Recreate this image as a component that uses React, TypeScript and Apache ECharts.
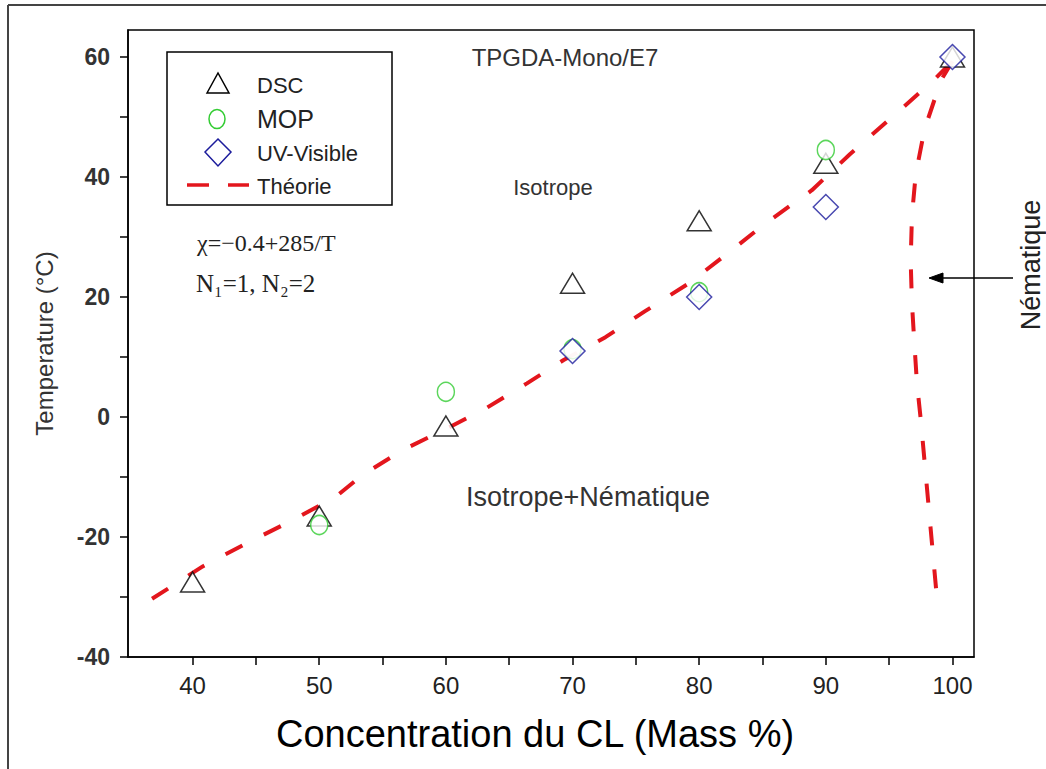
import React, { useEffect, useRef } from "react";
import * as echarts from "echarts";

// ---- Data ----
const xTickValues = [40, 45, 50, 55, 60, 65, 70, 75, 80, 85, 90, 95, 100];
const xLabelValues = [40, 50, 60, 70, 80, 90, 100];
const yTickValues = [-40, -30, -20, -10, 0, 10, 20, 30, 40, 50, 60];
const yLabelValues = [-40, -20, 0, 20, 40, 60];

const dscConc = [40, 50, 60, 70, 80, 90, 100];
const dscTemp = [-27.5, -16.5, -1.5, 22.3, 32.7, 42.3, 60];

const mopConc = [50, 60, 70, 80, 90];
const mopTemp = [-18, 4.2, 11.3, 20.8, 44.5];

const uvConc = [70, 80, 90, 100];
const uvTemp = [11, 20, 35, 60];

const theoryLiquidusX = [36.8, 40.8, 44.3, 47.8, 51.3, 53.4, 56.6, 60, 63.2, 66.4, 69.3, 72.6, 75.7, 79.2, 82.2, 85.2, 88.9, 91.9, 95.4, 98.6, 100];
const theoryLiquidusY = [-30.3, -24.9, -21, -17.3, -13.3, -9.7, -5.5, -2, 1.5, 5.6, 9.5, 13.3, 17.6, 22.3, 27.2, 32.2, 37.8, 43.8, 50.3, 56.3, 59.3];

const theoryNematicX = [100, 99.2, 98.6, 97.8, 97.1, 96.8, 96.7, 96.8, 97.0, 97.2, 97.5, 97.8, 98.1, 98.4, 98.7, 98.8];
const theoryNematicY = [59.3, 56.5, 53, 48, 40.5, 33.5, 26, 19, 12, 5.5, -0.5, -7.5, -14.5, -21.5, -28.5, -31];

const zip = (xs: number[], ys: number[]) => xs.map((x, i) => [x, ys[i]]);

const RED = "#e3161d";
const GREEN = "#33cc33";
const BLUE = "#1c1c9c";
const SANS = "'Liberation Sans', Arial, sans-serif";

export default function App() {
  const ref = useRef<HTMLDivElement>(null);
  useEffect(() => {
    document.body.style.margin = "0";
    const chart = echarts.init(ref.current!, null, { renderer: "svg" });
    const dashStyle = { type: [19, 24] as any, width: 4, color: RED, cap: "butt" as any };
    chart.setOption({
      animation: false,
      backgroundColor: "#fff",
      grid: {
        left: 128,
        top: 30,
        right: 72,
        bottom: 112,
        show: true,
        borderColor: "#000",
        borderWidth: 1.5,
        backgroundColor: "transparent",
        outerBoundsMode: "none",
      },
      xAxis: {
        type: "value",
        min: 34.9,
        max: 101.7,
        splitLine: { show: false },
        axisLine: { show: true, onZero: false, lineStyle: { color: "#000", width: 1.5 } },
        axisTick: { show: true, customValues: xTickValues, length: 8, lineStyle: { color: "#000", width: 1.5 } },
        axisLabel: {
          customValues: xLabelValues,
          margin: 16,
          fontSize: 24,
          color: "#222",
          fontFamily: "'Liberation Sans Narrow', 'Liberation Sans', Arial, sans-serif",
        },
        name: "Concentration du CL (Mass %)",
        nameLocation: "middle",
        nameGap: 58,
        nameTextStyle: { fontSize: 38, color: "#000", fontFamily: SANS, padding: [0, 32, 0, 0] },
      },
      yAxis: {
        type: "value",
        min: -40,
        max: 64.5,
        splitLine: { show: false },
        axisLine: { show: true, onZero: false, lineStyle: { color: "#000", width: 1.5 } },
        axisTick: { show: true, customValues: yTickValues, length: 8, lineStyle: { color: "#000", width: 1.5 } },
        axisLabel: {
          customValues: yLabelValues,
          margin: 18,
          fontSize: 23,
          fontWeight: "bold",
          color: "#333",
          fontFamily: SANS,
        },
        name: "Temperature (°C)",
        nameLocation: "middle",
        nameGap: 72,
        nameTextStyle: { fontSize: 24, color: "#333", fontFamily: SANS },
      },
      series: [
        {
          name: "Théorie",
          type: "line",
          data: zip(theoryLiquidusX, theoryLiquidusY),
          showSymbol: false,
          lineStyle: dashStyle,
          z: 2,
        },
        {
          name: "Théorie (nématique)",
          type: "line",
          data: zip(theoryNematicX, theoryNematicY),
          showSymbol: false,
          lineStyle: dashStyle,
          z: 2,
        },
        {
          name: "DSC",
          type: "scatter",
          data: zip(dscConc, dscTemp),
          symbol: "triangle",
          symbolSize: [24, 20],
          itemStyle: { color: "#fff", borderColor: "#000", borderWidth: 1.5 },
          z: 3,
        },
        {
          name: "MOP",
          type: "scatter",
          data: zip(mopConc, mopTemp),
          symbol: "circle",
          symbolSize: [17, 19],
          itemStyle: { color: "#fff", borderColor: GREEN, borderWidth: 1.5 },
          z: 4,
        },
        {
          name: "UV-Visible",
          type: "scatter",
          data: zip(uvConc, uvTemp),
          symbol: "diamond",
          symbolSize: 25,
          itemStyle: { color: "#fff", borderColor: BLUE, borderWidth: 1.5 },
          z: 5,
        },
      ],
      graphic: [
        // outer frame
        { type: "line", shape: { x1: 8, y1: 5, x2: 1046, y2: 5 }, style: { stroke: "#444", lineWidth: 2 } },
        { type: "line", shape: { x1: 8, y1: 5, x2: 8, y2: 769 }, style: { stroke: "#444", lineWidth: 2 } },
        // legend box
        { type: "rect", shape: { x: 167, y: 52, width: 225, height: 153 }, style: { fill: "#fff", stroke: "#000", lineWidth: 1.5 }, z: 10 },
        { type: "polygon", shape: { points: [[207, 93], [218, 73], [229, 93]] }, style: { fill: "none", stroke: "#000", lineWidth: 1.5 }, z: 11 },
        { type: "ellipse", shape: { cx: 217, cy: 119, rx: 8, ry: 9.5 }, style: { fill: "none", stroke: GREEN, lineWidth: 1.5 }, z: 11 },
        { type: "polygon", shape: { points: [[218, 139], [231, 152], [218, 166], [205, 152]] }, style: { fill: "none", stroke: BLUE, lineWidth: 1.5 }, z: 11 },
        { type: "line", shape: { x1: 187, y1: 185, x2: 209, y2: 185 }, style: { stroke: RED, lineWidth: 3.5 }, z: 11 },
        { type: "line", shape: { x1: 228, y1: 185, x2: 249, y2: 185 }, style: { stroke: RED, lineWidth: 3.5 }, z: 11 },
        { type: "text", x: 257, y: 85, style: { text: "DSC", fontSize: 22, fill: "#222", fontFamily: SANS, verticalAlign: "middle" }, z: 11 },
        { type: "text", x: 257, y: 119, style: { text: "MOP", fontSize: 25, fill: "#222", fontFamily: SANS, verticalAlign: "middle" }, z: 11 },
        { type: "text", x: 257, y: 153, style: { text: "UV-Visible", fontSize: 22, fill: "#222", fontFamily: SANS, verticalAlign: "middle" }, z: 11 },
        { type: "text", x: 257, y: 186, style: { text: "Théorie", fontSize: 22, fill: "#222", fontFamily: SANS, verticalAlign: "middle" }, z: 11 },
        // annotations
        { type: "text", x: 565, y: 57, style: { text: "TPGDA-Mono/E7", fontSize: 24, fill: "#333", fontFamily: SANS, align: "center", verticalAlign: "middle" }, z: 11 },
        { type: "text", x: 553, y: 187, style: { text: "Isotrope", fontSize: 22, fill: "#333", fontFamily: SANS, align: "center", verticalAlign: "middle" }, z: 11 },
        { type: "text", x: 588, y: 497, style: { text: "Isotrope+Nématique", fontSize: 27, fill: "#333", fontFamily: SANS, align: "center", verticalAlign: "middle" }, z: 11 },
        { type: "text", x: 197, y: 243, style: { text: "χ=−0.4+285/T", fontSize: 24, fill: "#222", fontFamily: "'Liberation Serif', 'Times New Roman', serif", verticalAlign: "middle" }, z: 11 },
        { type: "text", x: 196, y: 283, style: { text: "N₁=1, N₂=2", fontSize: 25, fill: "#222", fontFamily: "'Liberation Serif', 'DejaVu Serif', serif", verticalAlign: "middle" }, z: 11 },
        { type: "text", x: 1031, y: 265, rotation: Math.PI / 2, style: { text: "Nématique", fontSize: 27, fill: "#222", fontFamily: SANS, align: "center", verticalAlign: "middle" }, z: 11 },
        // arrow
        { type: "line", shape: { x1: 1013, y1: 278, x2: 940, y2: 278 }, style: { stroke: "#000", lineWidth: 1.5 }, z: 11 },
        { type: "polygon", shape: { points: [[929, 278], [943, 273], [943, 283]] }, style: { fill: "#000", stroke: "#000", lineWidth: 1 }, z: 11 },
      ],
    });
    return () => chart.dispose();
  }, []);
  return <div ref={ref} style={{ width: 1046, height: 769 }} />;
}
